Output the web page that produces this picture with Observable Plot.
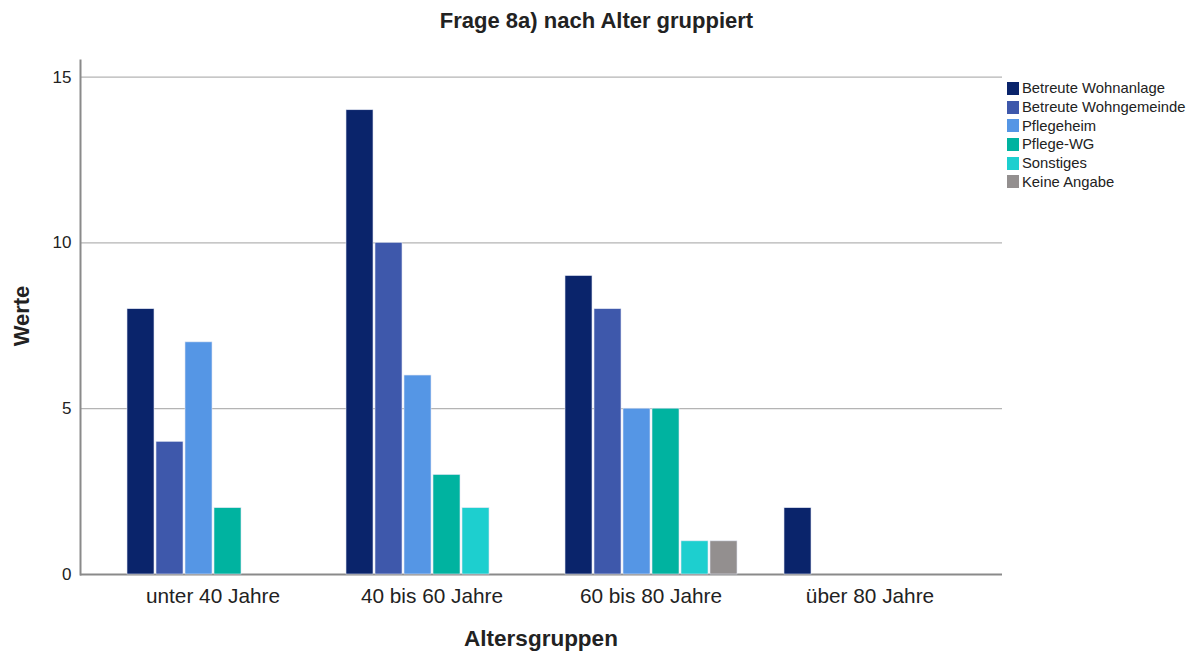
<!DOCTYPE html>
<html>
<head>
<meta charset="utf-8">
<script src="https://cdn.jsdelivr.net/npm/d3@7"></script>
<script src="https://cdn.jsdelivr.net/npm/@observablehq/plot@0.6"></script>
<style>
  body { margin: 0; background: #fff; font-family: "Liberation Sans", Arial, sans-serif; }
  #wrap { position: relative; width: 1199px; height: 655px; overflow: hidden; }
  #wrap svg { position: absolute; left: 0; top: 0; }
  .title { position: absolute; left: 0; width: 1193px; top: 10px; text-align: center; font-weight: bold; font-size: 22px; color: #222; line-height: 1; }
  .xlab { position: absolute; left: 80px; width: 922px; top: 628px; text-align: center; font-weight: bold; font-size: 22.5px; color: #222; line-height: 1; }
  .ylab { position: absolute; left: 22px; top: 316px; transform: translate(-50%, -50%) rotate(-90deg); font-weight: bold; font-size: 22px; color: #222; line-height: 1; white-space: nowrap; }
  .legend { position: absolute; left: 1007px; top: 79px; font-size: 14.8px; color: #222; }
  .legend .row { display: flex; align-items: center; height: 18.7px; white-space: nowrap; }
  .legend .sw { width: 12px; height: 13px; margin-right: 3px; }
</style>
</head>
<body>
<div id="wrap"></div>
<script>
const groups = ["unter 40 Jahre", "40 bis 60 Jahre", "60 bis 80 Jahre", "über 80 Jahre"];
const series = ["Betreute Wohnanlage", "Betreute Wohngemeinde", "Pflegeheim", "Pflege-WG", "Sonstiges", "Keine Angabe"];
const colors = ["#0a246b", "#3e58ab", "#5596e5", "#00b3a0", "#1dcfcf", "#938f8f"];
// values per series, in group order
const betreuteWohnanlage   = [8, 14, 9, 2];
const betreuteWohngemeinde = [4, 10, 8, 0];
const pflegeheim           = [7, 6, 5, 0];
const pflegeWG             = [2, 3, 5, 0];
const sonstiges            = [0, 2, 1, 0];
const keineAngabe          = [0, 0, 1, 0];
const yTicks = [0, 5, 10, 15];

const seriesValues = [betreuteWohnanlage, betreuteWohngemeinde, pflegeheim, pflegeWG, sonstiges, keineAngabe];
const data = [];
series.forEach((s, i) => groups.forEach((g, j) => data.push({group: g, series: s, value: seriesValues[i][j]})));

const W = 1199, H = 655;
const margins = {marginLeft: 80, marginRight: W - 1002, marginTop: 60, marginBottom: H - 574};
const yDomain = [0, 15.5];
const bandPad = {paddingInner: 0.19, paddingOuter: 0.2};

// Background: grid, axes, tick labels
const bg = Plot.plot({
  width: W, height: H, ...margins,
  style: {background: "transparent", fontFamily: "Liberation Sans, Arial, sans-serif", color: "#222"},
  x: {type: "band", domain: groups, ...bandPad},
  y: {domain: yDomain},
  marks: [
    Plot.gridY(yTicks.filter(d => d > 0), {stroke: "#b4b4b4", strokeOpacity: 1, strokeWidth: 1.2}),
    Plot.axisY(yTicks, {tickSize: 0, tickPadding: 9, fontSize: 17, label: null}),
    Plot.axisX({tickSize: 0, tickPadding: 14, fontSize: 20.8, label: null}),
    Plot.frame({anchor: "left", stroke: "#8a8a8a", strokeWidth: 2}),
    Plot.ruleY([0], {stroke: "#8a8a8a", strokeWidth: 2})
  ]
});

// Foreground: grouped bars via facets
const fg = Plot.plot({
  width: W, height: H, ...margins,
  style: {background: "transparent"},
  fx: {domain: groups, ...bandPad, axis: null, label: null},
  x: {domain: series, paddingInner: 0.08, paddingOuter: 0, axis: null},
  y: {domain: yDomain, axis: null},
  color: {domain: series, range: colors},
  marks: [
    Plot.barY(data, {fx: "group", x: "series", y: "value", fill: "series", stroke: "#dfe5f2", strokeWidth: 0.6})
  ]
});

const wrap = document.getElementById("wrap");
wrap.appendChild(bg);
wrap.appendChild(fg);

const addDiv = (cls, text) => { const d = document.createElement("div"); d.className = cls; d.textContent = text; wrap.appendChild(d); return d; };
addDiv("title", "Frage 8a) nach Alter gruppiert");
addDiv("xlab", "Altersgruppen");
addDiv("ylab", "Werte");

const leg = document.createElement("div");
leg.className = "legend";
series.forEach((s, i) => {
  const r = document.createElement("div"); r.className = "row";
  const sw = document.createElement("div"); sw.className = "sw"; sw.style.background = colors[i];
  const t = document.createElement("span"); t.textContent = s;
  r.appendChild(sw); r.appendChild(t); leg.appendChild(r);
});
wrap.appendChild(leg);
</script>
</body>
</html>
